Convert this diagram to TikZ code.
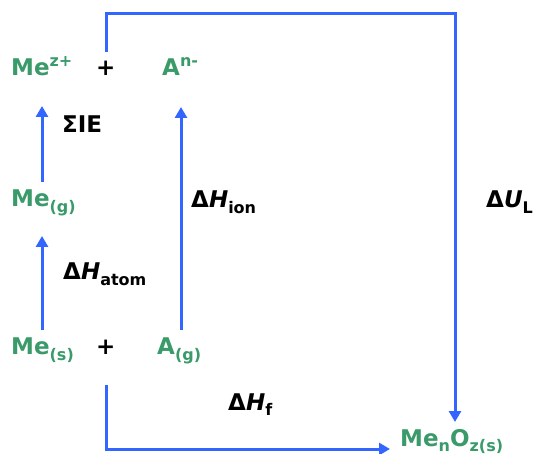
\documentclass[tikz,border=0pt]{standalone}
\usepackage{fontspec}
\setmainfont{DejaVu Sans}
\usetikzlibrary{arrows.meta,positioning}
\definecolor{chemgreen}{HTML}{3A9A6A}
\definecolor{cycleblue}{HTML}{3366FF}
\newcommand{\lowtxt}[1]{\raisebox{-0.22em}{\fontsize{16}{18}\selectfont #1}}
\newcommand{\hightxt}[1]{\raisebox{0.42em}{\fontsize{16}{18}\selectfont #1}}
\newcommand{\quantity}[2]{Δ\textit{#1}\lowtxt{#2}}

\begin{document}
\begin{tikzpicture}[
  x=1pt, y=-1pt,
  species/.style={anchor=base west, inner sep=0pt, text=chemgreen, font=\bfseries\fontsize{23}{26}\selectfont},
  enthalpy/.style={anchor=base west, inner sep=0pt, text=black, font=\bfseries\fontsize{23}{26}\selectfont},
  cyclearrow/.style={draw=cycleblue, line width=3pt, -{Triangle[length=11pt,width=12pt]}}
]
  \useasboundingbox (0,0) rectangle (533,454);
  % species
  \node[species] (meion) at (11,76) {Me\hightxt{z+}};
  \node[enthalpy] (plustop) at (96,76) {+};
  \node[species] (anion) at (162,76) {A\hightxt{n-}};
  \node[species] (megas) at (11,207) {Me\lowtxt{(g)}};
  \node[species] (mesolid) at (11,355) {Me\lowtxt{(s)}};
  \node[enthalpy] (plusbot) at (96,355) {+};
  \node[species] (agas) at (157,355) {A\lowtxt{(g)}};
  \node[species] (oxide) at (400,446) {Me\lowtxt{n}O\lowtxt{z(s)}};
  % enthalpies
  \node[enthalpy] (ie) at (62,133) {ΣIE};
  \node[enthalpy] (hatom) at (63,280) {\quantity{H}{atom}};
  \node[enthalpy] (hion) at (191,208) {\quantity{H}{ion}};
  \node[enthalpy] (ulat) at (486,208) {\quantity{U}{L}};
  \node[enthalpy] (hform) at (228,410) {\quantity{H}{f}};
  % arrow ends
  \coordinate (s1) at (42,330);
  \coordinate (g1) at (42,236);
  \coordinate (g2) at (42,182);
  \coordinate (z1) at (42,106);
  \coordinate (a1) at (181,330);
  \coordinate (a2) at (181,107);
  \coordinate (t1) at (106,52);
  \coordinate (t2) at (455,422);
  \coordinate (b1) at (106,385);
  \coordinate (b2) at (390,449);
  \draw[cyclearrow] (s1) -- (g1);
  \draw[cyclearrow] (g2) -- (z1);
  \draw[cyclearrow] (a1) -- (a2);
  \draw[cyclearrow] (t1) |- (455,14) -- (t2);
  \draw[cyclearrow] (b1) |- (b2);
\end{tikzpicture}
\end{document}
